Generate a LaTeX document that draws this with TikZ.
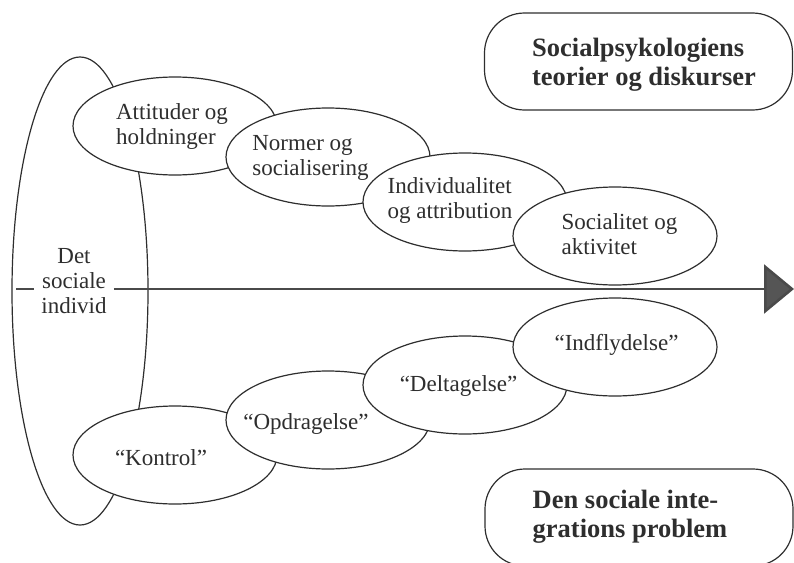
\documentclass[tikz,border=0pt]{standalone}
\usepackage{fontspec}
\setmainfont{Liberation Serif}
\usetikzlibrary{shapes.geometric,arrows.meta}
\definecolor{ink}{HTML}{2E2E2E}
\definecolor{axisgray}{HTML}{4A4A4A}
\definecolor{headgray}{HTML}{555555}
\begin{document}
\begin{tikzpicture}[x=1pt,y=-1pt,
  blob/.style={ellipse,draw=ink,line width=1.2pt,fill=white,minimum width=204pt,minimum height=98pt,inner sep=0pt},
  bigblob/.style={ellipse,draw=ink,line width=1.2pt,minimum width=136pt,minimum height=468pt,inner sep=0pt},
  txt/.style={text=ink,font=\fontsize{23}{25}\selectfont,inner sep=0pt,align=left},
  ttl/.style={text=ink,font=\fontsize{26.5}{29}\selectfont\bfseries,inner sep=0pt,align=left},
  pill/.style={draw=ink,line width=1.2pt,rounded corners=40pt,minimum width=308pt,minimum height=97pt,inner sep=0pt},
  axisline/.style={draw=axisgray,line width=2.6pt}]
\useasboundingbox (0,0) rectangle (794,562);

% the social individual
\node[bigblob] (ind) at (80,291) {};
\node[txt,align=center,inner xsep=7pt,inner ysep=0pt] (dsi) at (74,281) {Det\\sociale\\individ};

% axis
\coordinate (axL) at (16,289);
\coordinate (axTip) at (794,289);
\draw[axisline] (axL) -- (dsi.west |- axL);
\draw[axisline,-{Triangle[length=30pt,width=49pt,fill=headgray]}] (dsi.east |- axL) -- (axTip);

% upper chain
\node[blob] (e1) at (175,126) {};
\node[txt] (t1) at (172,126.5) {Attituder og\\holdninger};
\node[blob] (e2) at (328,157) {};
\node[txt] (t2) at (310.5,158) {Normer og\\socialisering};
\node[blob] (e3) at (465,202) {};
\node[txt] (t3) at (450,200.5) {Individualitet\\og attribution};
\node[blob] (e4) at (615,236) {};
\node[txt] (t4) at (619.5,234) {Socialitet og\\aktivitet};

% lower chain
\node[blob] (e5) at (175,455) {};
\node[txt] (t5) at (161,458) {``Kontrol''};
\node[blob] (e6) at (328,420) {};
\node[txt] (t6) at (306,424) {``Opdragelse''};
\node[blob] (e7) at (465,385) {};
\node[txt] (t7) at (458.5,386) {``Deltagelse''};
\node[blob] (e8) at (615,347) {};
\node[txt] (t8) at (616.5,345) {``Indflydelse''};

% headings
\node[pill] (theo) at (638.5,61.5) {};
\node[ttl] (theot) at (644,65) {Socialpsykologiens\\teorier og diskurser};
\node[pill] (integ) at (639,517.5) {};
\node[ttl] (integt) at (630,517) {Den sociale inte-\\grations problem};
\end{tikzpicture}
\end{document}
